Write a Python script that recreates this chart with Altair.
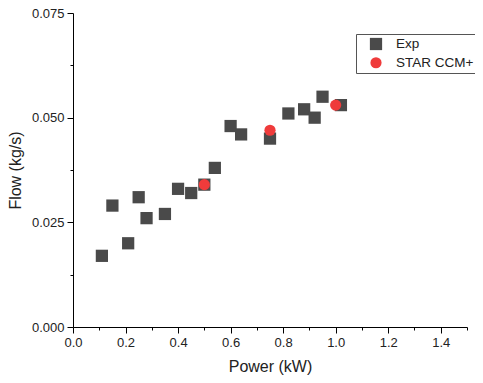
import altair as alt
import pandas as pd

exp_power = [0.11, 0.15, 0.21, 0.25, 0.28, 0.35, 0.40, 0.45, 0.50, 0.54, 0.60, 0.64, 0.75, 0.82, 0.88, 0.92, 0.95, 1.02]
exp_flow = [0.017, 0.029, 0.020, 0.031, 0.026, 0.027, 0.033, 0.032, 0.034, 0.038, 0.048, 0.046, 0.045, 0.051, 0.052, 0.050, 0.055, 0.053]
sim_power = [0.50, 0.75, 1.00]
sim_flow = [0.034, 0.047, 0.053]

x_ticks = [round(i * 0.1, 1) for i in range(16)]
y_ticks = [round(i * 0.0125, 4) for i in range(7)]

series = ["Exp", "STAR CCM+"]
df = pd.concat([
    pd.DataFrame({"Power": exp_power, "Flow": exp_flow, "Series": series[0]}),
    pd.DataFrame({"Power": sim_power, "Flow": sim_flow, "Series": series[1]}),
], ignore_index=True)

FONT = "Liberation Sans"

x_axis = alt.Axis(
    title="Power (kW)", values=x_ticks, grid=False,
    labelExpr="round(datum.value*10)%2==0 ? format(datum.value,'.1f') : ''",
    labelOverlap=False, labelFlush=False,
    tickSize={"condition": {"test": "round(datum.value*10)%2==0", "value": 6}, "value": 3},
    titleFontSize=16, labelFontSize=13, titlePadding=9, labelPadding=3,
)
y_axis = alt.Axis(
    title="Flow (kg/s)", values=y_ticks, grid=False,
    labelExpr="round(datum.value/0.0125)%2==0 ? format(datum.value,'.3f') : ''",
    labelOverlap=False, labelFlush=False,
    tickSize={"condition": {"test": "round(datum.value/0.0125)%2==0", "value": 6}, "value": 3},
    titleFontSize=16, labelFontSize=13, titlePadding=8, labelPadding=3,
)

legend = alt.Legend(title=None, orient="none", legendX=283, legendY=21,
                    strokeColor="#555", padding=3, labelFontSize=13.5,
                    symbolSize=140, rowPadding=4, labelOffset=13, symbolOffset=10)

chart = alt.Chart(df).mark_point(filled=True, opacity=1).encode(
    x=alt.X("Power:Q", scale=alt.Scale(domain=[0, 1.5], nice=False, zero=False), axis=x_axis),
    y=alt.Y("Flow:Q", scale=alt.Scale(domain=[0, 0.075], nice=False), axis=y_axis),
    shape=alt.Shape("Series:N", scale=alt.Scale(domain=series, range=["square", "circle"]), legend=legend),
    color=alt.Color("Series:N", scale=alt.Scale(domain=series, range=["#4a4a4a", "#ef3b3b"]), legend=legend),
    size=alt.Size("Series:N", scale=alt.Scale(domain=series, range=[150, 125]), legend=None),
).properties(
    width=394, height=314,
    autosize=alt.AutoSizeParams(type="none"),
    padding={"left": 65, "top": 5, "right": 8, "bottom": 48},
).configure_view(stroke=None).configure_axis(
    domainColor="black", tickColor="black", labelColor="#222", titleColor="#222",
    labelFont=FONT, titleFont=FONT, titleFontWeight="normal",
).configure_legend(labelFont=FONT, labelColor="#222")

chart.save("out.html", embed_options={"renderer": "svg", "actions": False})
